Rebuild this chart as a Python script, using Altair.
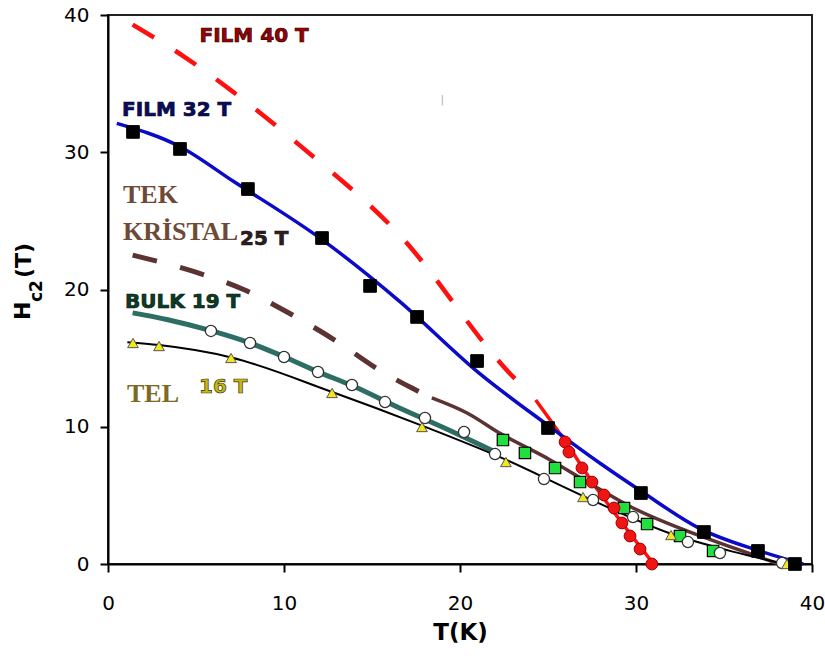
import altair as alt
import pandas as pd

# ---------------- axis ticks ----------------
X_MAJOR = [0, 10, 20, 30, 40]
Y_MAJOR = [0, 10, 20, 30, 40]

# ---------------- FILM 40 T (red) ----------------
film40_dash_T = [1.4, 4.4, 6.9, 9.2, 10.9, 16.4, 23.2, 24.1]
film40_dash_H = [39.3, 36.9, 34.6, 32.3, 30.5, 24.2, 13.4, 12.3]
film40_fit_T = [24.3, 26.0, 27.5, 29.2, 31.0]
film40_fit_H = [11.95, 8.9, 6.0, 3.0, 0.0]
film40_pts_T = [25.97, 26.19, 26.93, 27.5, 28.18, 28.75, 29.2, 29.66, 30.23, 30.9]
film40_pts_H = [8.89, 8.16, 7.0, 5.97, 5.03, 4.08, 2.99, 2.04, 1.09, 0.0]

# ---------------- FILM 32 T (blue line, black squares) ----------------
film32_line_T = [0.5, 4.1, 7.1, 12.2, 16.6, 21.0, 25.0, 28.0, 30.3, 33.6, 36.9, 39.5]
film32_line_H = [32.1, 30.4, 27.9, 23.6, 19.1, 14.0, 10.1, 7.3, 5.3, 2.6, 1.0, 0.0]
film32_pts_T = [1.42, 4.09, 7.95, 12.16, 14.89, 17.56, 20.97, 25.0, 30.28, 33.86, 36.93, 39.03]
film32_pts_H = [31.48, 30.24, 27.32, 23.75, 20.26, 18.0, 14.79, 9.91, 5.17, 2.33, 0.95, 0.0]

# ---------------- TEK KRISTAL 25 T (brown, green squares) ----------------
crystal_dash_T = [1.4, 4.9, 7.7, 10.4, 12.9, 15.45, 17.3, 18.6]
crystal_dash_H = [22.5, 21.3, 20.0, 18.2, 16.3, 14.1, 12.8, 12.0]
crystal_line_T = [18.4, 20.4, 22.3, 25.1, 27.2, 29.8, 32.7, 35.5, 38.0]
crystal_line_H = [12.1, 11.0, 9.5, 7.6, 6.0, 4.1, 2.5, 1.2, 0.05]
crystal_pts_T = [22.44, 23.69, 25.4, 26.82, 29.32, 30.63, 32.5, 34.38]
crystal_pts_H = [9.03, 8.09, 6.99, 5.97, 4.08, 2.91, 2.04, 0.95]

# ---------------- BULK 19 T (teal, white circles) ----------------
bulk_line_T = [1.4, 3.4, 5.85, 8.07, 10.0, 11.93, 13.86, 16.5, 19.3, 22.1]
bulk_line_H = [18.3, 17.8, 17.0, 16.1, 15.1, 14.0, 13.0, 11.4, 9.8, 8.1]
bulk_pts_T = [5.85, 8.07, 10.0, 11.93, 13.86, 15.74, 18.01, 20.23, 21.99, 24.77, 27.56, 29.83, 32.95, 34.77, 38.3]
bulk_pts_H = [16.98, 16.1, 15.08, 13.99, 13.04, 11.8, 10.64, 9.62, 8.01, 6.19, 4.66, 3.42, 1.6, 0.8, 0.07]

# ---------------- TEL 16 T (black line, yellow triangles) ----------------
wire_line_T = [1.1, 2.9, 7.0, 12.7, 17.8, 22.6, 27.0, 32.0, 35.5, 38.5]
wire_line_H = [16.15, 15.95, 15.05, 12.55, 10.1, 7.6, 4.95, 2.2, 0.9, 0.0]
wire_pts_T = [1.42, 2.9, 6.99, 12.73, 17.84, 22.61, 26.99, 31.99, 38.58]
wire_pts_H = [16.1, 15.88, 15.01, 12.46, 9.98, 7.43, 4.88, 2.11, 0.0]

# ---------------- annotations ----------------
sans_text = ["FILM 40 T", "FILM 32 T", "25 T", "BULK 19 T", "16 T"]
sans_T = [5.2, 0.8, 7.5, 0.97, 5.17]
sans_H = [38.5, 33.1, 23.7, 19.1, 12.9]
sans_fill = ["#9a0000", "#0b0b5e", "#2b1e1e", "#0d3b25", "#c4b71c"]
sans_edge = ["#2a0000", "#05052a", "#1a1010", "#051a10", "#3a3500"]

serif_text = ["TEK", "KRİSTAL", "TEL"]
serif_T = [0.85, 0.85, 1.08]
serif_H = [26.9, 24.2, 12.4]
serif_color = ["#6e4a36", "#6e4a36", "#7b6a22"]

ytitle_text = ["H", "c2", "(T)"]
ytitle_T = [-4.83, -4.03, -4.77]
ytitle_H = [17.78, 19.09, 20.84]
ytitle_size = [22, 17, 22]

mark_text_small = ["|"]
mark_text_T = [19.0]
mark_text_H = [33.8]

XS = alt.Scale(domain=[0, 40], nice=False, zero=False)
YS = alt.Scale(domain=[0, 40], nice=False, zero=False)

main_x = alt.Axis(values=X_MAJOR, format="d", tickSize=8, tickWidth=2,
                  tickColor="black", domainColor="black", domainWidth=2, grid=False,
                  labelFlush=False, labelOverlap=False, labelFont="DejaVu Sans",
                  labelFontSize=20, labelColor="black", labelPadding=21, title="T(K)",
                  titleFont="DejaVu Sans", titleFontWeight="bold", titleFontSize=23,
                  titleColor="black", titlePadding=8)
main_y = alt.Axis(values=Y_MAJOR, format="d", tickSize=8, tickWidth=2,
                  tickColor="black", domainColor="black", domainWidth=2, grid=False,
                  labelOverlap=False, labelFont="DejaVu Sans", labelFontSize=20,
                  labelColor="black", labelPadding=11, title="")


def df(T, H):
    return pd.DataFrame({"T": T, "H": H})


def enc(chart):
    return chart.encode(
        x=alt.X("T:Q", scale=XS, axis=main_x),
        y=alt.Y("H:Q", scale=YS, axis=main_y),
    )


layers = []
layers.append(enc(alt.Chart(df(film40_dash_T, film40_dash_H)).mark_line(
    color="#ff1010", strokeWidth=4.5, strokeDash=[25, 25], interpolate="monotone")))
layers.append(enc(alt.Chart(df(film40_fit_T, film40_fit_H)).mark_line(
    color="#ff1010", strokeWidth=3.5, interpolate="monotone")))
layers.append(enc(alt.Chart(df(film32_line_T, film32_line_H)).mark_line(
    color="#0a0ac8", strokeWidth=3.5, interpolate="monotone")))
layers.append(enc(alt.Chart(df(crystal_dash_T, crystal_dash_H)).mark_line(
    color="#5c3232", strokeWidth=5, strokeDash=[25, 24], interpolate="monotone")))
layers.append(enc(alt.Chart(df(crystal_line_T, crystal_line_H)).mark_line(
    color="#5c3232", strokeWidth=3.5, interpolate="monotone")))
layers.append(enc(alt.Chart(df(bulk_line_T, bulk_line_H)).mark_line(
    color="#2d6e64", strokeWidth=5, interpolate="monotone")))
layers.append(enc(alt.Chart(df(wire_line_T, wire_line_H)).mark_line(
    color="black", strokeWidth=2, interpolate="monotone")))

layers.append(enc(alt.Chart(df(crystal_pts_T, crystal_pts_H)).mark_point(
    shape="square", filled=True, fill="#1fe03c", stroke="black", strokeWidth=1.2, size=130, opacity=1)))
layers.append(enc(alt.Chart(df(bulk_pts_T, bulk_pts_H)).mark_point(
    shape="circle", filled=True, fill="white", stroke="#333333", strokeWidth=1.3, size=125, opacity=1)))
layers.append(enc(alt.Chart(df(wire_pts_T, wire_pts_H)).mark_point(
    shape="triangle-up", filled=True, fill="#f2e61c", stroke="#555555", strokeWidth=1, size=115, opacity=1)))
layers.append(enc(alt.Chart(df(film32_pts_T, film32_pts_H)).mark_point(
    shape="square", filled=True, fill="black", stroke="black", strokeWidth=1, size=160, opacity=1)))
layers.append(enc(alt.Chart(df(film40_pts_T, film40_pts_H)).mark_point(
    shape="circle", filled=True, fill="#f01414", stroke="#a00000", strokeWidth=1, size=140, opacity=1)))

sans_df = pd.DataFrame({"T": sans_T, "H": sans_H, "label": sans_text, "f": sans_fill, "e": sans_edge})
layers.append(enc(alt.Chart(sans_df).mark_text(
    font="DejaVu Sans", fontWeight="bold", fontSize=20, align="left", baseline="middle",
    strokeWidth=0.7)).encode(
    text="label:N", color=alt.Color("f:N", scale=None), stroke=alt.Stroke("e:N", scale=None)))

serif_df = pd.DataFrame({"T": serif_T, "H": serif_H, "label": serif_text, "c": serif_color})
layers.append(enc(alt.Chart(serif_df).mark_text(
    font="Liberation Serif", fontWeight="bold", fontSize=26, align="left", baseline="middle")).encode(
    text="label:N", color=alt.Color("c:N", scale=None)))

yt_df = pd.DataFrame({"T": ytitle_T, "H": ytitle_H, "label": ytitle_text, "s": ytitle_size})
layers.append(enc(alt.Chart(yt_df).mark_text(
    font="DejaVu Sans", fontWeight="bold", angle=270, align="left", baseline="middle", color="black")).encode(
    text="label:N", size=alt.Size("s:Q", scale=None)))

small_df = pd.DataFrame({"T": mark_text_T, "H": mark_text_H, "label": mark_text_small})
layers.append(enc(alt.Chart(small_df).mark_text(
    font="DejaVu Sans", fontSize=11, color="#b0b0b0", align="center", baseline="middle")).encode(
    text="label:N"))

chart = alt.layer(*layers).properties(
    width=704,
    height=549,
    autosize=alt.AutoSizeParams(type="none"),
    padding={"left": 108, "top": 15, "right": 13, "bottom": 100},
    background="white",
).configure_view(stroke="#222222", strokeWidth=2)

chart.save("out.html", embed_options={"renderer": "svg", "actions": False})
